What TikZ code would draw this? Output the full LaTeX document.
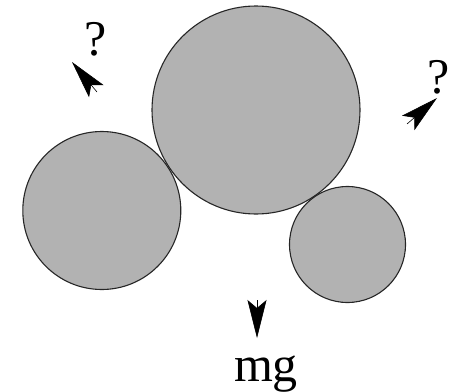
\documentclass[tikz,border=0pt]{standalone}
\usepackage{fontspec}
\setmainfont{Liberation Serif}
\usetikzlibrary{arrows.meta}
\tikzset{
  ball/.style={circle, draw=black!85, line width=1.1pt, fill=black!30, inner sep=0pt},
  force/.style={line width=0.6pt, -{Stealth[length=38pt, width=19pt, inset=8pt]}},
  lbl/.style={anchor=base, inner sep=0pt, font=\fontsize{50}{52}\selectfont}
}
\begin{document}
\begin{tikzpicture}[x=1pt,y=-1pt]
\useasboundingbox (0,0) rectangle (452,391);
% balls
\node[ball, minimum size=208pt] (big) at (256,110) {};
\node[ball, minimum size=158pt] (left) at (101.8,210.5) {};
\node[ball, minimum size=116pt] (small) at (347.5,244.5) {};
% force arrow coordinates
\coordinate (f1s) at (97,92);
\coordinate (f1e) at (72,62);
\coordinate (f2s) at (407,124);
\coordinate (f2e) at (437,98);
\coordinate (f3s) at (257,300);
\coordinate (f3e) at (257,338);
\draw[force] (f1s) -- (f1e);
\draw[force] (f2s) -- (f2e);
\draw[force] (f3s) -- (f3e);
% labels
\node[lbl] (q1) at (96,55) {?};
\node[lbl] (q2) at (439,93) {?};
\node[lbl] (mg) at (266,381) {mg};
\end{tikzpicture}
\end{document}
